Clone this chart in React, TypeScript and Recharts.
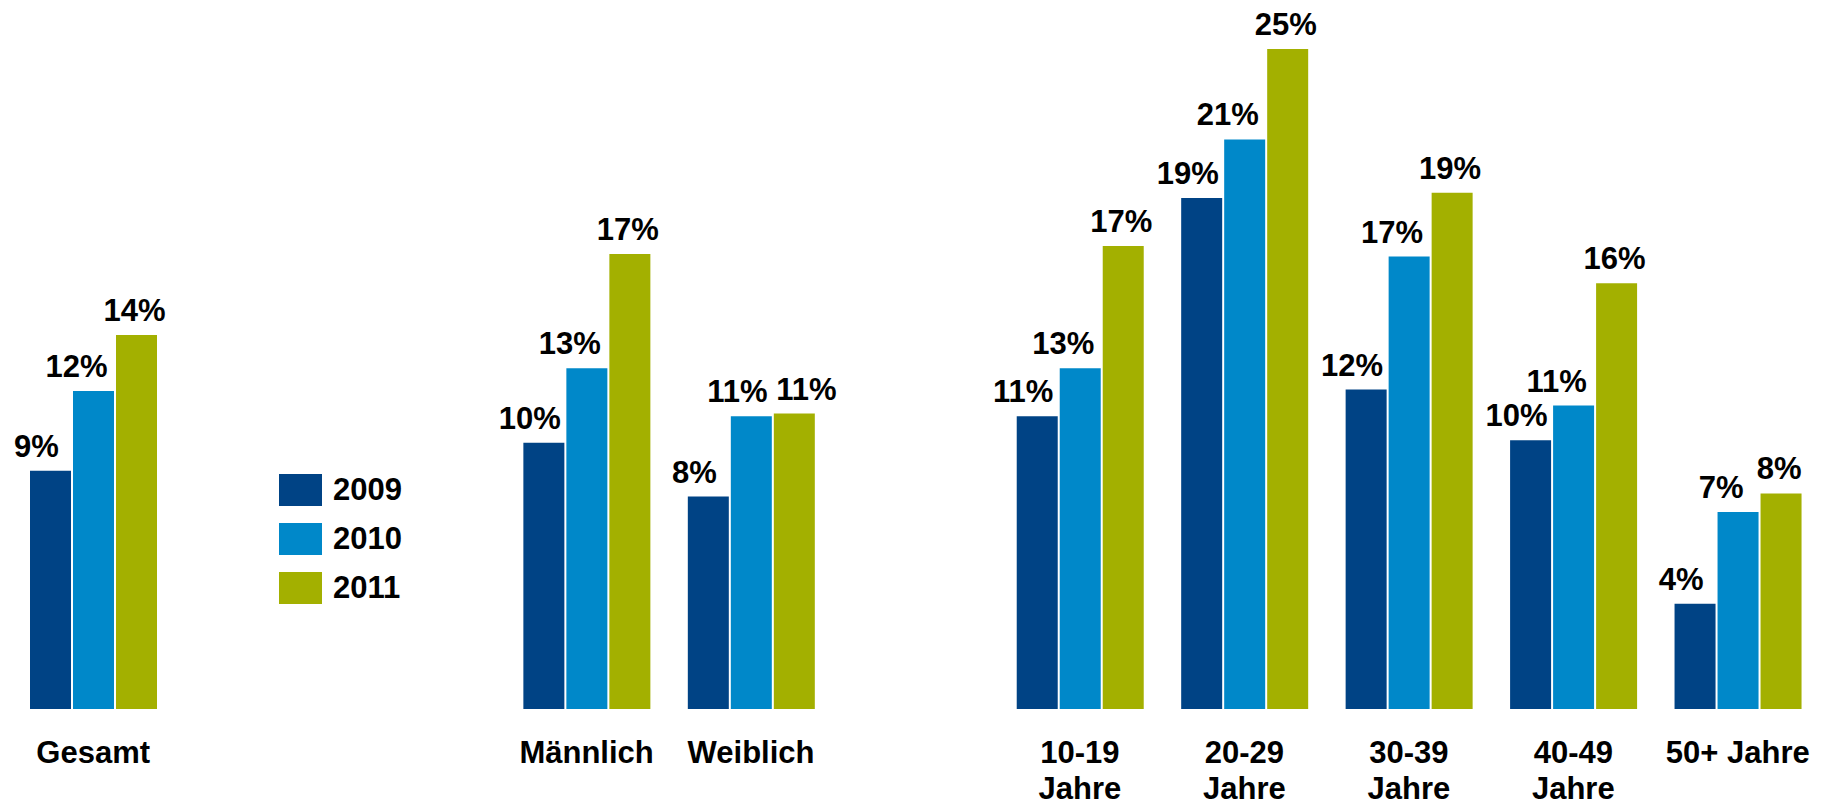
import React from 'react';
import { BarChart, Bar, XAxis, YAxis, LabelList } from 'recharts';

// empty strings are the blank slots between the groups
const categories = [
  'Gesamt', '', '', 'Männlich', 'Weiblich', '',
  '10-19\nJahre', '20-29\nJahre', '30-39\nJahre', '40-49\nJahre', '50+ Jahre',
];
const years = ['2009', '2010', '2011'];
const values2009 = [8.95, null, null, 10.0, 7.98, null, 11.0, 19.2, 12.0, 10.1, 3.95];
const values2010 = [11.95, null, null, 12.8, 11.0, null, 12.8, 21.4, 17.0, 11.4, 7.4];
const values2011 = [14.05, null, null, 17.1, 11.1, null, 17.4, 24.8, 19.4, 16.0, 8.1];

const COLORS = ['#004385', '#0088c9', '#a3b000'];
const LABEL_DX = [-14, -17, -2];
const FONT = '"Liberation Sans", Arial, sans-serif';

const data = categories.map((name, i) => ({
  name,
  y2009: values2009[i],
  y2010: values2010[i],
  y2011: values2011[i],
}));
const keys = ['y2009', 'y2010', 'y2011'];

// nudge the 2010/2011 labels apart when both bars have about the same height
const clashes = (a: number | null, b: number | null) =>
  a != null && b != null && Math.abs(a - b) < 0.5;

const labelOffset = (series: number, value: number, payload: any) => {
  let clash = false;
  if (payload && payload.y2010 !== undefined) {
    clash = clashes(payload.y2010, payload.y2011);
  } else {
    const own = series === 1 ? values2010 : values2011;
    clash = own.some((v, j) => v === value && clashes(values2010[j], values2011[j]));
  }
  if (clash && series === 1) return -14;
  if (clash && series === 2) return 12;
  return LABEL_DX[series];
};

const makeLabel = (series: number) => (props: any) => {
  const { x, y, width, value, payload } = props;
  if (value === null || value === undefined) return null;
  return (
    <text
      x={Number(x) + Number(width) / 2 + labelOffset(series, value, payload)}
      y={Number(y) - 14}
      textAnchor="middle"
      fontFamily={FONT}
      fontWeight={700}
      fontSize={31}
      fill="#000"
    >
      {Math.round(value)}%
    </text>
  );
};

const CategoryTick = (props: any) => {
  const { x, y, payload } = props;
  if (!payload || !payload.value) return null;
  const lines = String(payload.value).split('\n');
  return (
    <text x={x} y={y} textAnchor="middle" fontFamily={FONT} fontWeight={700} fontSize={31} fill="#000">
      {lines.map((l, i) => (
        <tspan key={i} x={x} y={y + 54 + i * 36}>{l}</tspan>
      ))}
    </text>
  );
};

export default function App() {
  return (
    <div style={{ position: 'absolute', left: 0, top: 0, width: 1828, height: 805, background: '#fff' }}>
      <BarChart
        width={1828}
        height={805}
        data={data}
        margin={{ top: 17, right: 8, left: 11, bottom: 0 }}
        barCategoryGap={19}
        barGap={2}
      >
        <XAxis
          dataKey="name"
          interval={0}
          axisLine={false}
          tickLine={false}
          tickSize={0}
          tickMargin={0}
          height={96}
          tick={<CategoryTick />}
        />
        <YAxis hide domain={[0, 26]} allowDataOverflow />
        {keys.map((k, i) => (
          <Bar key={k} dataKey={k} name={years[i]} fill={COLORS[i]} isAnimationActive={false}>
            <LabelList dataKey={k} content={makeLabel(i)} />
          </Bar>
        ))}
      </BarChart>
      <div style={{ position: 'absolute', left: 279, top: 474, fontFamily: FONT }}>
        {years.map((yr, i) => (
          <div key={yr} style={{ display: 'flex', alignItems: 'center', height: 32, marginBottom: 17 }}>
            <div style={{ width: 43, height: 32, background: COLORS[i] }} />
            <span style={{ marginLeft: 11, fontSize: 31, fontWeight: 700, color: '#000', lineHeight: '32px' }}>{yr}</span>
          </div>
        ))}
      </div>
    </div>
  );
}
